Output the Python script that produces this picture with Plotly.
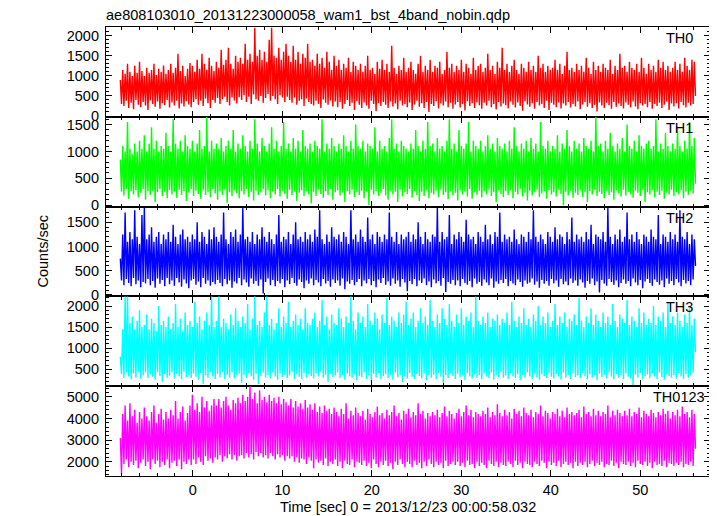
import numpy as np
import plotly.graph_objects as go
from plotly.subplots import make_subplots

TITLE = "ae808103010_20131223000058_wam1_bst_4band_nobin.qdp"
X_TITLE = "Time [sec] 0 = 2013/12/23 00:00:58.032"
Y_TITLE = "Counts/sec"
BANDS = ["TH0", "TH1", "TH2", "TH3", "TH0123"]
COLORS = ["#ff0000", "#00ff00", "#0000ff", "#00ffff", "#ff00ff"]

# time grid of the light curve (start and bin width, seconds)
T_START = -8.1
T_BIN = 0.1342

th0 = [
    900, 300, 1150, 250, 1050, 380, 1300, 200, 1100, 330, 1000, 170, 1250, 400, 1080, 280, 1350, 220, 1120, 350,
    1000, 260, 1200, 150, 1080, 390, 1150, 300, 1300, 230, 1020, 360, 1180, 180, 1100, 320, 1260, 270, 1050, 400,
    1150, 210, 1300, 340, 1080, 260, 1200, 380, 1550, 190, 1120, 310, 1250, 240, 1000, 370, 1180, 290, 1320, 220,
    1250, 350, 1100, 420, 1400, 280, 1180, 380, 1550, 250, 1300, 440, 1150, 320, 1450, 200, 1250, 400, 1120, 330,
    1350, 450, 1200, 300, 1650, 420, 1280, 480, 1400, 350, 1700, 260, 1300, 460, 1180, 390, 1500, 310, 1350, 470,
    1450, 400, 1300, 520, 1800, 350, 1400, 480, 1550, 300, 1350, 540, 2200, 420, 1500, 380, 1650, 500, 1400, 330,
    1600, 450, 1350, 550, 1900, 380, 2200, 500, 1500, 420, 1450, 300, 1700, 520, 1400, 460, 1600, 350, 1800, 480,
    1500, 400, 1350, 330, 1750, 460, 1400, 280, 1600, 380, 1300, 420, 1550, 250, 1450, 440, 1800, 350, 1350, 300,
    1400, 260, 1250, 380, 1550, 300, 1300, 200, 1450, 410, 1200, 330, 1600, 280, 1350, 390, 1150, 240, 1500, 360,
    1250, 220, 1400, 350, 1150, 180, 1300, 300, 1200, 400, 1450, 250, 1100, 330, 1350, 150, 1250, 370, 1150, 280,
    1300, 200, 1100, 340, 1250, 260, 1500, 180, 1150, 380, 1200, 300, 1050, 120, 1350, 320, 1180, 250, 1400, 350,
    1150, 280, 1300, 200, 1100, 360, 1750, 240, 1200, 310, 1050, 170, 1250, 380, 1150, 260, 1450, 300, 1100, 220,
    1200, 340, 1350, 150, 1150, 290, 1050, 380, 1300, 230, 1500, 320, 1100, 200, 1250, 350, 1150, 100, 1400, 300,
    1100, 250, 1250, 370, 1200, 190, 1350, 310, 1050, 260, 1150, 360, 1600, 220, 1200, 330, 1300, 180, 1100, 290,
    1250, 350, 1150, 210, 1400, 300, 1100, 140, 1300, 370, 1200, 250, 1050, 320, 1450, 200, 1150, 340, 1250, 270,
    1300, 180, 1100, 330, 1200, 260, 1550, 380, 1150, 220, 1250, 300, 1050, 160, 1350, 350, 1200, 240, 1700, 310,
    1150, 270, 1300, 190, 1100, 360, 1250, 280, 1400, 210, 1150, 340, 1050, 250, 1300, 130, 1200, 370, 1100, 290,
    1350, 230, 1150, 320, 1250, 180, 1100, 350, 1500, 260, 1200, 300, 1300, 200, 1100, 380, 1250, 150, 1150, 330,
    1200, 280, 1400, 220, 1150, 340, 1300, 190, 1050, 310, 1250, 260, 1600, 350, 1150, 210, 1200, 300, 1100, 240,
    1300, 360, 1150, 170, 1250, 290, 1100, 350, 1450, 230, 1200, 320, 1050, 200, 1350, 280, 1150, 110, 1250, 340,
    1100, 260, 1300, 200, 1200, 330, 1150, 270, 1400, 180, 1050, 350, 1250, 230, 1150, 310, 1550, 250, 1200, 190,
    1250, 340, 1100, 280, 1350, 210, 1200, 360, 1150, 240, 1300, 170, 1100, 320, 1450, 260, 1200, 300, 1050, 220,
    1300, 350, 1150, 180, 1250, 300, 1100, 250, 1400, 330, 1200, 200, 1350, 280, 1150, 360, 1250, 150, 1100, 310,
    1200, 240, 1350, 320, 1150, 190, 1300, 350, 1100, 270, 1450, 210, 1250, 330, 1150, 260, 1400, 300, 1350, 500,
]

th1 = [
    850, 250, 1100, 180, 1000, 300, 1550, 120, 1050, 260, 950, 200, 1150, 280, 1000, 150, 1200, 230, 1050, 300,
    1300, 100, 1000, 260, 1150, 190, 1450, 270, 1050, 60, 1200, 240, 1000, 300, 1100, 170, 1050, 250, 1350, 130,
    1100, 280, 1000, 200, 1600, 250, 1150, 140, 1050, 290, 1200, 190, 1000, 260, 1300, 80, 1100, 230, 1050, 300,
    1200, 170, 1000, 270, 1150, 210, 1400, 120, 1050, 280, 1100, 190, 1650, 250, 1000, 150, 1200, 300, 1050, 220,
    1150, 100, 1050, 260, 1250, 190, 1000, 290, 1100, 40, 1200, 240, 1050, 170, 1400, 280, 1000, 220, 1150, 130,
    1050, 260, 1300, 200, 1100, 300, 1000, 150, 1200, 250, 1050, 90, 1600, 270, 1150, 190, 1000, 240, 1250, 300,
    1100, 180, 1000, 280, 1150, 130, 1450, 250, 1050, 200, 1200, 300, 1000, 160, 1100, 270, 1550, 210, 1050, 120,
    1150, 290, 1000, 190, 1250, 250, 1050, 80, 1200, 230, 1000, 280, 1400, 170, 1100, 260, 1050, 200, 1150, 30,
    1000, 250, 1200, 170, 1100, 290, 1050, 210, 1600, 140, 1000, 260, 1150, 190, 1050, 300, 1250, 100, 1100, 240,
    1000, 280, 1150, 180, 1050, 230, 1300, 60, 1100, 260, 1000, 200, 1200, 290, 1050, 150, 1500, 240, 1100, 190,
    1050, 270, 1200, 130, 1000, 250, 1150, 0, 1100, 290, 1050, 200, 1450, 260, 1000, 170, 1200, 230, 1050, 300,
    1100, 180, 1000, 100, 1250, 270, 1600, 200, 1050, 250, 1150, 60, 1000, 290, 1200, 160, 1100, 240, 1050, 210,
    1000, 300, 1150, 140, 1050, 260, 1400, 190, 1100, 80, 1000, 250, 1200, 170, 1050, 280, 1550, 130, 1100, 230,
    1150, 200, 1000, 270, 1250, 150, 1050, 290, 1100, 190, 1000, 240, 1200, 110, 1600, 260, 1050, 180, 1150, 230,
    1000, 90, 1400, 280, 1100, 200, 1050, 250, 1150, 160, 1550, 300, 1000, 120, 1200, 240, 1100, 190, 1050, 270,
    1200, 150, 1000, 260, 1100, 200, 1300, 290, 1050, 170, 1150, 240, 1000, 60, 1250, 280, 1100, 210, 1050, 150,
    1150, 260, 1000, 190, 1200, 280, 1050, 130, 1450, 250, 1100, 200, 1000, 300, 1150, 160, 1050, 230, 1200, 90,
    1000, 270, 1250, 180, 1050, 240, 1150, 290, 1000, 150, 1550, 220, 1100, 260, 1050, 120, 1200, 280, 1000, 200,
    1100, 240, 1050, 160, 1300, 290, 1000, 210, 1150, 0, 1050, 250, 1400, 180, 1100, 270, 1000, 140, 1200, 230,
    1050, 190, 1150, 280, 1000, 150, 1250, 240, 1100, 60, 1050, 260, 1200, 200, 1000, 290, 1650, 170, 1100, 250,
    1150, 210, 1000, 130, 1200, 270, 1050, 190, 1350, 240, 1100, 100, 1000, 280, 1150, 220, 1050, 160, 1250, 290,
    1000, 180, 1500, 250, 1100, 200, 1050, 140, 1200, 270, 1000, 230, 1300, 170, 1100, 290, 1050, 60, 1150, 240,
    1200, 200, 1050, 280, 1100, 150, 1600, 250, 1000, 190, 1150, 270, 1050, 120, 1350, 230, 1100, 200, 1000, 290,
    1150, 170, 1050, 240, 1450, 200, 1100, 280, 1000, 130, 1200, 250, 1050, 190, 1550, 270, 1100, 220, 1250, 400,
]

th2 = [
    750, 300, 1250, 200, 1700, 330, 1100, 250, 1300, 180, 1150, 350, 1750, 220, 1200, 300, 1050, 160, 1650, 270,
    1800, 240, 1150, 330, 1250, 200, 1400, 290, 1100, 150, 1200, 340, 1300, 230, 1050, 310, 1250, 180, 1150, 350,
    1300, 220, 1100, 300, 1450, 190, 1200, 350, 1050, 260, 1250, 170, 1350, 320, 1150, 240, 1200, 140, 1100, 300,
    1250, 330, 1150, 210, 1500, 280, 1100, 160, 1300, 350, 1200, 230, 1050, 300, 1350, 190, 1150, 270, 1400, 220,
    1200, 310, 1100, 250, 1250, 180, 1700, 330, 1150, 220, 1050, 300, 1300, 150, 1200, 280, 1350, 240, 1100, 350,
    1250, 200, 1800, 320, 1150, 260, 1200, 170, 1100, 340, 1300, 230, 1050, 290, 1250, 190, 1150, 320, 1400, 30,
    1200, 270, 1100, 340, 1300, 200, 1150, 310, 1050, 180, 1250, 290, 1650, 240, 1100, 330, 1200, 160, 1150, 300,
    1300, 220, 1050, 350, 1250, 250, 1500, 190, 1150, 320, 1200, 270, 1100, 140, 1300, 300, 1150, 230, 1250, 340,
    1100, 200, 1350, 310, 1200, 260, 1750, 180, 1150, 330, 1050, 240, 1250, 290, 1100, 170, 1400, 320, 1200, 250,
    1150, 300, 1250, 190, 1100, 340, 1300, 120, 1200, 280, 1050, 230, 1750, 310, 1150, 200, 1250, 270, 1100, 330,
    1350, 180, 1200, 300, 1100, 240, 1600, 330, 1150, 200, 1250, 290, 1050, 160, 1300, 320, 1200, 250, 1100, 350,
    1250, 210, 1150, 280, 1700, 190, 1200, 340, 1100, 230, 1300, 300, 1050, 170, 1250, 330, 1150, 260, 1200, 80,
    1300, 290, 1100, 220, 1250, 330, 1150, 180, 1500, 300, 1200, 250, 1050, 340, 1300, 200, 1150, 280, 1100, 160,
    1250, 320, 1200, 240, 1800, 290, 1100, 190, 1300, 350, 1150, 60, 1200, 270, 1650, 230, 1050, 310, 1250, 200,
    1150, 300, 1300, 180, 1200, 330, 1100, 250, 1550, 210, 1250, 290, 1150, 160, 1200, 340, 1050, 230, 1300, 270,
    1200, 190, 1100, 320, 1450, 260, 1150, 200, 1250, 340, 1050, 150, 1300, 280, 1200, 230, 1700, 310, 1100, 250,
    1250, 330, 1150, 180, 1200, 290, 1100, 240, 1350, 200, 1150, 320, 1050, 270, 1250, 170, 1200, 300, 1100, 230,
    1300, 260, 1150, 340, 1750, 210, 1200, 280, 1100, 150, 1250, 310, 1150, 230, 1050, 290, 1300, 190, 1200, 330,
    1100, 240, 1400, 300, 1150, 170, 1250, 330, 1200, 220, 1050, 280, 1300, 200, 1150, 340, 1600, 250, 1100, 300,
    1250, 190, 1150, 320, 1200, 260, 1100, 150, 1300, 290, 1150, 230, 1450, 340, 1050, 200, 1250, 280, 1200, 50,
    1150, 310, 1300, 240, 1100, 190, 1800, 330, 1200, 270, 1050, 210, 1250, 300, 1150, 160, 1350, 250, 1100, 320,
    1200, 230, 1700, 290, 1150, 180, 1250, 340, 1100, 260, 1300, 200, 1150, 310, 1050, 140, 1250, 280, 1200, 330,
    1100, 250, 1350, 190, 1200, 320, 1150, 270, 1650, 210, 1050, 300, 1250, 160, 1200, 340, 1100, 230, 1300, 290,
    1150, 200, 1250, 330, 1100, 260, 1750, 180, 1200, 310, 1150, 240, 1300, 290, 1050, 200, 1250, 320, 1150, 600,
]

th3 = [
    800, 380, 1450, 300, 2250, 420, 2250, 330, 1600, 260, 1750, 400, 1450, 300, 1650, 440, 1900, 280, 1500, 350,
    1550, 420, 1800, 290, 1450, 380, 1700, 320, 1600, 250, 1400, 430, 2000, 340, 1550, 200, 1650, 390, 1500, 300,
    1750, 350, 1450, 420, 1600, 280, 2050, 390, 1500, 330, 1700, 260, 1400, 440, 1850, 310, 1550, 370, 1650, 290,
    1500, 400, 2100, 320, 1600, 250, 1750, 410, 1450, 150, 1650, 360, 1850, 300, 1550, 430, 2250, 330, 1500, 270,
    1650, 390, 2250, 310, 1500, 440, 1700, 260, 1600, 370, 1450, 300, 1800, 420, 1550, 280, 1950, 350, 1650, 400,
    1500, 180, 1750, 370, 1600, 300, 2050, 410, 1450, 330, 1700, 250, 2250, 390, 1550, 150, 1650, 340, 1500, 420,
    1850, 300, 2250, 360, 1550, 280, 1700, 420, 1450, 330, 1600, 250, 1950, 400, 1500, 310, 1750, 370, 1600, 290,
    2100, 350, 1500, 430, 1650, 270, 1800, 390, 1550, 320, 1700, 260, 1450, 410, 1950, 300, 1600, 380, 1550, 340,
    1700, 280, 1850, 400, 1500, 330, 1650, 440, 2150, 300, 1550, 370, 1750, 200, 1450, 390, 1800, 310, 1600, 350,
    1550, 420, 1950, 290, 1700, 360, 1500, 250, 1750, 400, 1600, 330, 2250, 300, 1650, 380, 1450, 230, 1850, 340,
    1600, 310, 1750, 420, 1500, 270, 2050, 350, 1650, 210, 1550, 390, 1850, 300, 1700, 410, 1450, 260, 1800, 340,
    1600, 380, 2200, 290, 1550, 350, 1750, 250, 1650, 420, 1500, 310, 1850, 360, 1600, 190, 1800, 330, 2100, 280,
    1550, 410, 1700, 320, 1850, 270, 1500, 390, 1650, 340, 1950, 280, 1600, 400, 1750, 230, 1550, 360, 2150, 300,
    1650, 370, 1500, 260, 1800, 410, 1600, 320, 1950, 170, 1700, 360, 1550, 290, 2050, 400, 1650, 340, 1500, 270,
    1800, 390, 1600, 310, 1950, 350, 1550, 240, 1750, 410, 1650, 330, 1850, 280, 1500, 380, 2250, 300, 1650, 360,
    1550, 260, 1750, 400, 1600, 330, 1850, 290, 1500, 420, 1700, 250, 1650, 370, 1800, 310, 1550, 440, 1700, 300,
    1600, 350, 1850, 270, 1550, 410, 2100, 330, 1650, 290, 1500, 380, 1750, 240, 1600, 360, 1950, 300, 1550, 420,
    1700, 330, 1500, 270, 1800, 400, 1650, 300, 2000, 250, 1550, 380, 1750, 340, 1600, 290, 1850, 410, 1500, 320,
    1650, 280, 2050, 390, 1550, 330, 1750, 250, 1600, 420, 1850, 300, 1500, 360, 1700, 270, 1650, 400, 1800, 310,
    1550, 350, 2200, 290, 1650, 410, 1500, 330, 1750, 260, 1600, 380, 1950, 300, 1550, 350, 1800, 240, 1650, 400,
    1500, 310, 1850, 370, 1600, 280, 1750, 420, 1550, 330, 2050, 260, 1650, 390, 1500, 300, 1800, 350, 1700, 270,
    1600, 400, 2150, 320, 1550, 280, 1750, 100, 1650, 370, 1500, 300, 1950, 410, 1600, 260, 1850, 340, 1550, 380,
    1700, 290, 1600, 400, 2000, 330, 1550, 270, 1750, 420, 1650, 310, 1850, 250, 1500, 380, 2100, 340, 1600, 300,
    1750, 360, 1550, 280, 1850, 410, 1650, 330, 1500, 270, 1800, 390, 1600, 300, 1950, 350, 1550, 420, 1700, 900,
]

th0123 = [
    3100, 1450, 4200, 1900, 4600, 2100, 3900, 1750, 4700, 2000, 4100, 1850, 4400, 2050, 3800, 1700, 4300, 1950, 4000, 2100,
    4500, 1800, 4100, 2000, 3900, 1650, 4300, 2100, 4600, 1900, 3800, 2050, 4200, 1750, 4450, 2000, 3950, 1850, 4300, 2100,
    4000, 1700, 4400, 1950, 4150, 2050, 4800, 1800, 4000, 2100, 4300, 1650, 4550, 2000, 3900, 1900, 4250, 2100, 4600, 1850,
    5100, 2100, 4400, 1900, 4700, 2200, 4300, 2000, 5000, 1850, 4500, 2250, 4800, 2050, 4350, 2150, 4600, 1950, 4900, 2200,
    4600, 2100, 4900, 2300, 4500, 2000, 4800, 2250, 5000, 2150, 4600, 2350, 4400, 2100, 4850, 2300, 4700, 2050, 4950, 2250,
    4700, 2300, 5100, 2150, 4800, 2400, 5000, 2200, 5500, 2350, 4900, 2100, 5200, 2450, 4700, 2250, 5300, 2400, 4850, 2200,
    5000, 2300, 4750, 2150, 5100, 2400, 4800, 2250, 4950, 2100, 4700, 2350, 5000, 2200, 4650, 2300, 4900, 2050, 4750, 2250,
    4600, 2150, 4900, 2250, 4500, 2000, 4800, 2200, 4550, 1950, 4700, 2150, 4450, 2100, 4850, 1900, 4500, 2200, 4650, 2050,
    4400, 1700, 4700, 2100, 4300, 1950, 4550, 2050, 4250, 1850, 4600, 2150, 4350, 1800, 4450, 2000, 4200, 1900, 4500, 2100,
    4300, 1800, 4100, 2000, 4450, 1700, 4200, 2050, 4700, 1900, 4000, 1850, 4350, 2100, 4150, 1750, 4500, 2000, 4250, 1950,
    4100, 1850, 4350, 2050, 3950, 1800, 4450, 1950, 4200, 1700, 4050, 2100, 4300, 1900, 4550, 1750, 4150, 2000, 4250, 1850,
    4000, 2050, 4400, 1800, 4150, 1950, 4300, 1650, 4600, 2000, 4100, 1850, 4250, 2100, 3950, 1900, 4350, 1750, 4200, 2000,
    4450, 1900, 4050, 1750, 4300, 2050, 4150, 1850, 4700, 1950, 4200, 1700, 4350, 2000, 4000, 1800, 4250, 2100, 4100, 1900,
    4300, 1750, 4150, 2000, 4400, 1850, 4050, 1950, 4250, 1700, 4550, 2050, 4100, 1800, 4350, 1900, 4200, 2000, 4000, 1850,
    4250, 2000, 4450, 1800, 4100, 1950, 4300, 1750, 4600, 2050, 4150, 1850, 4400, 1900, 4050, 1700, 4300, 2000, 4200, 1800,
    4100, 1950, 4350, 1850, 4200, 1700, 4500, 2050, 4050, 1900, 4300, 1800, 4150, 2000, 4650, 1750, 4250, 1950, 4100, 1850,
    4400, 1800, 4150, 2000, 4300, 1900, 4000, 1750, 4450, 2050, 4200, 1850, 4350, 1950, 4100, 1700, 4500, 2000, 4250, 1900,
    4150, 1850, 4400, 1750, 4050, 2000, 4300, 1900, 4200, 1800, 4600, 2050, 4100, 1950, 4350, 1700, 4250, 2000, 4000, 1850,
    4300, 1950, 4200, 1800, 4450, 2050, 4100, 1750, 4350, 1900, 4050, 2000, 4500, 1850, 4200, 1950, 4300, 1700, 4150, 2000,
    4250, 1800, 4400, 1950, 4050, 1850, 4550, 2000, 4200, 1750, 4300, 1900, 4100, 2050, 4450, 1800, 4150, 1950, 4350, 1850,
    4100, 2000, 4300, 1750, 4200, 1900, 4600, 1850, 4050, 2050, 4350, 1800, 4150, 1950, 4400, 1700, 4250, 2000, 4100, 1900,
    4350, 1850, 4150, 2000, 4450, 1800, 4100, 1950, 4300, 1750, 4200, 2050, 4500, 1900, 4050, 1850, 4350, 2000, 4200, 1800,
    4100, 1950, 4400, 1700, 4250, 2000, 4050, 1850, 4300, 1900, 4150, 1800, 4450, 2050, 4200, 1750, 4350, 1950, 4000, 1900,
    4300, 1800, 4150, 1950, 4400, 1850, 4100, 2000, 4550, 1750, 4200, 1900, 4300, 1850, 4050, 2000, 4400, 1800, 4200, 2600,
]

SERIES = [th0, th1, th2, th3, th0123]

# axis settings
X_RANGE = [-9.7, 57.8]
Y_RANGES = [[-20, 2220], [-26, 1645], [-29, 1824], [97, 2230], [1340, 5490]]
Y_DTICK = [500, 500, 500, 500, 1000]
Y_MINOR = [100, 100, 100, 100, 200]

FONT = "Liberation Sans"
FS = 14.5

# the page body adds an 8 px offset; size the figure so the frame lands where it should
PAGE_OFFSET = 8

fig = make_subplots(rows=5, cols=1, shared_xaxes=True, vertical_spacing=0)

for i, (vals, col) in enumerate(zip(SERIES, COLORS)):
    t = T_START + T_BIN * np.arange(len(vals))
    fig.add_trace(
        go.Scatter(x=t, y=vals, mode="lines",
                   line=dict(color=col, width=1.4, simplify=False),
                   showlegend=False, hoverinfo="skip"),
        row=i + 1, col=1,
    )
    fig.update_yaxes(
        row=i + 1, col=1, range=Y_RANGES[i], dtick=Y_DTICK[i], tick0=0,
        ticks="inside", ticklen=6, tickwidth=1, tickcolor="black",
        mirror="allticks", showline=True, linecolor="black", linewidth=1.2,
        showgrid=False, zeroline=False, ticklabelstandoff=3,
        minor=dict(dtick=Y_MINOR[i], tick0=0, ticks="inside", ticklen=3,
                   tickcolor="black", showgrid=False),
        tickfont=dict(family=FONT, size=FS, color="black"),
    )
    fig.update_xaxes(
        row=i + 1, col=1, range=X_RANGE, dtick=10, tick0=0,
        ticks="inside", ticklen=6, tickwidth=1, tickcolor="black",
        mirror="allticks", showline=True, linecolor="black", linewidth=1.2,
        showgrid=False, zeroline=False, showticklabels=(i == 4),
        minor=dict(dtick=2, tick0=0, ticks="inside", ticklen=3,
                   tickcolor="black", showgrid=False),
        tickfont=dict(family=FONT, size=FS, color="black"),
    )
    fig.add_annotation(
        text=BANDS[i], xref="paper", x=0.949, xanchor="center",
        yref=f"y{'' if i == 0 else i + 1} domain", y=1, yanchor="middle", yshift=-11,
        showarrow=False, font=dict(family=FONT, size=FS, color="black"),
    )

fig.add_annotation(
    text=TITLE, xref="paper", x=0, xanchor="left", xshift=-2,
    yref="paper", y=1, yanchor="middle", yshift=12,
    showarrow=False, font=dict(family=FONT, size=FS, color="black"),
)
fig.add_annotation(
    text=Y_TITLE, xref="paper", x=0, xanchor="center", xshift=-64,
    yref="paper", y=0.5, yanchor="middle", textangle=-90,
    showarrow=False, font=dict(family=FONT, size=FS, color="black"),
)
fig.add_annotation(
    text=X_TITLE, xref="paper", x=0.5, xanchor="center",
    yref="paper", y=0, yanchor="middle", yshift=-31,
    showarrow=False, font=dict(family=FONT, size=FS, color="black"),
)

fig.update_layout(
    width=717 - PAGE_OFFSET, height=516 - PAGE_OFFSET,
    margin=dict(l=106 - PAGE_OFFSET, r=7, t=27 - PAGE_OFFSET, b=40),
    paper_bgcolor="white", plot_bgcolor="white",
    showlegend=False,
)

fig.write_html("out.html")
